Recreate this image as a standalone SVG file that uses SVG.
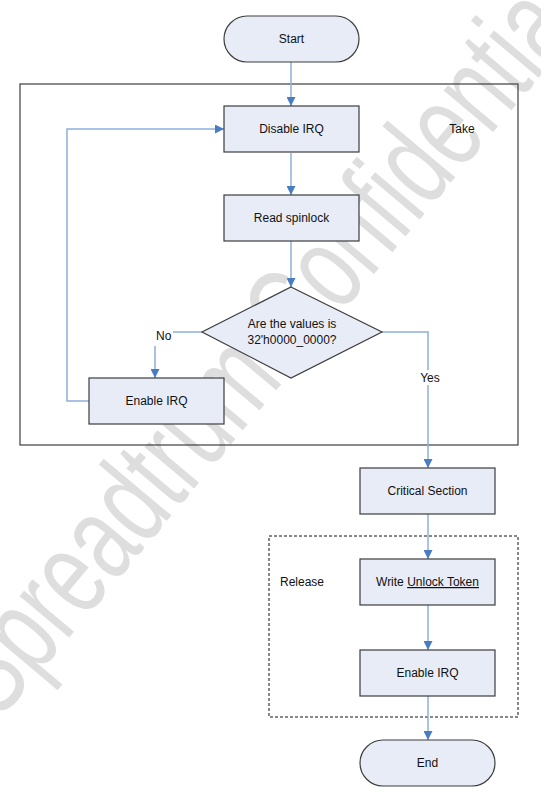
<svg xmlns="http://www.w3.org/2000/svg" width="541" height="800" viewBox="0 0 541 800">
<defs>
<style>
.node{fill:#e8ecf7;stroke:#3c3c3c;stroke-width:1.2}
.lbl{font-family:"Liberation Sans",Arial,sans-serif;font-size:12px;fill:#111;text-anchor:middle}
.free{font-family:"Liberation Sans",Arial,sans-serif;font-size:12px;fill:#111}
.conn{fill:none;stroke:#8fb0dd;stroke-width:1.5}
.wm{font-family:"Liberation Sans",Arial,sans-serif;font-size:122px;fill:#dedede}
</style>
<marker id="arr" viewBox="0 0 10 10" refX="10" refY="5" markerWidth="9" markerHeight="9" markerUnits="userSpaceOnUse" orient="auto">
<path d="M0,0 L10,5 L0,10 Z" fill="#4a7cc3"/>
</marker>
</defs>
<rect width="541" height="800" fill="#ffffff"/>
<g id="watermark">
<text class="wm" transform="translate(-2,722) rotate(-50) scale(0.7,1)">Spreadtrum Confidential</text>
</g>
<g id="take-group">
<rect x="20" y="84" width="498" height="361" fill="none" stroke="#3c3c3c" stroke-width="1.2"/>
<text class="lbl" x="462" y="133">Take</text>
</g>
<g id="release-group">
<rect x="269" y="536" width="249" height="181" fill="none" stroke="#111" stroke-width="1" stroke-dasharray="3,2"/>
<text class="free" x="280" y="586">Release</text>
</g>
<g id="connectors">
<path class="conn" d="M291,62 V106" marker-end="url(#arr)"/>
<path class="conn" d="M291,153 V195" marker-end="url(#arr)"/>
<path class="conn" d="M291,241 V287" marker-end="url(#arr)"/>
<path class="conn" d="M202,332 H155 V378" marker-end="url(#arr)"/>
<path class="conn" d="M89,401 H67 V129 H224" marker-end="url(#arr)"/>
<path class="conn" d="M382,332 H428 V468" marker-end="url(#arr)"/>
<path class="conn" d="M428,514 V559" marker-end="url(#arr)"/>
<path class="conn" d="M428,605 V650" marker-end="url(#arr)"/>
<path class="conn" d="M428,696 V740" marker-end="url(#arr)"/>
<rect x="152" y="327" width="21" height="19" fill="#ffffff"/>
<text class="free" x="156" y="340">No</text>
<rect x="418" y="370" width="24" height="15" fill="#ffffff"/>
<text class="lbl" x="430" y="382">Yes</text>
</g>
<g id="start">
<rect class="node" x="224" y="16" width="135" height="46" rx="23" ry="23"/>
<text class="lbl" x="291.5" y="43">Start</text>
</g>
<g id="disable-irq">
<rect class="node" x="224" y="106" width="135" height="46"/>
<text class="lbl" x="291.5" y="133">Disable IRQ</text>
</g>
<g id="read-spinlock">
<rect class="node" x="224" y="195" width="135" height="46"/>
<text class="lbl" x="291.5" y="222">Read spinlock</text>
</g>
<g id="decision">
<polygon class="node" points="291,287 382,332 291,378 202,332"/>
<text class="lbl" x="292" y="328" font-size="11.5">Are the values is</text>
<text class="lbl" x="292" y="344" font-size="11.5">32'h0000_0000?</text>
</g>
<g id="enable-irq-1">
<rect class="node" x="89" y="378" width="135" height="46"/>
<text class="lbl" x="156.5" y="405">Enable IRQ</text>
</g>
<g id="critical-section">
<rect class="node" x="360" y="468" width="135" height="46"/>
<text class="lbl" x="427.5" y="495">Critical Section</text>
</g>
<g id="write-unlock">
<rect class="node" x="360" y="559" width="135" height="46"/>
<text class="lbl" x="427.5" y="586">Write <tspan text-decoration="underline">Unlock Token</tspan></text>
</g>
<g id="enable-irq-2">
<rect class="node" x="360" y="650" width="135" height="46"/>
<text class="lbl" x="427.5" y="677">Enable IRQ</text>
</g>
<g id="end">
<rect class="node" x="360" y="740" width="135" height="46" rx="23" ry="23"/>
<text class="lbl" x="427.5" y="767">End</text>
</g>
</svg>
